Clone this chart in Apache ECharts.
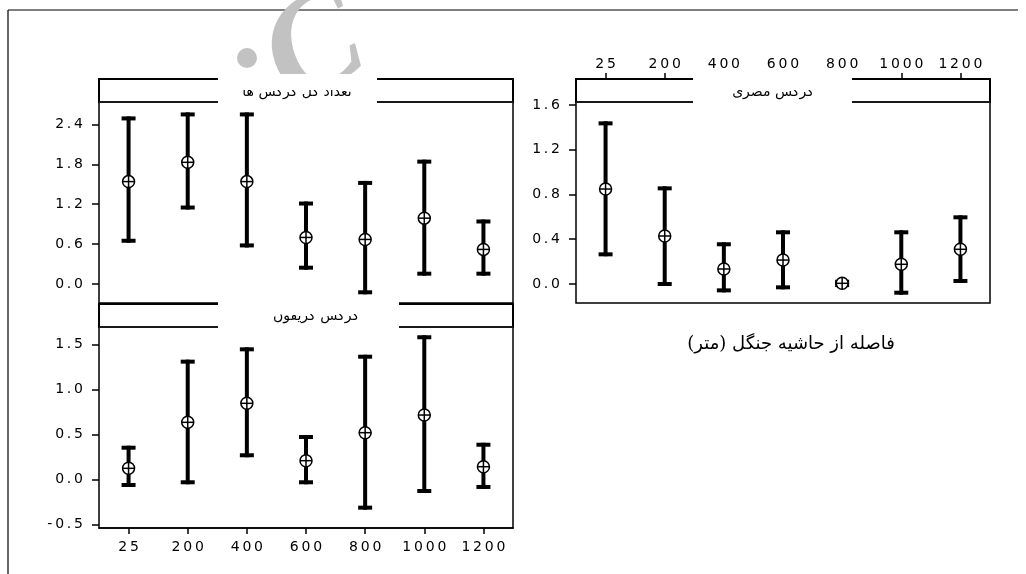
<!DOCTYPE html>
<html><head><meta charset="utf-8">
<script src="https://cdn.jsdelivr.net/npm/echarts@6/dist/echarts.min.js"></script>
<style>html,body{margin:0;padding:0;background:#fff}#c{width:1026px;height:574px}</style>
</head><body><div id="c"></div>
<script>
// ---- data ----
const categories = ['25','200','400','600','800','1000','1200'];
// panel 1 (top left)
const p1Mean = [1.54, 1.83, 1.54, 0.70, 0.67, 0.99, 0.52];
const p1Low  = [0.65, 1.15, 0.58, 0.245, -0.125, 0.155, 0.155];
const p1High = [2.49, 2.55, 2.55, 1.21, 1.52, 1.84, 0.94];
// panel 2 (top right)
const p2Mean = [0.849, 0.429, 0.134, 0.214, 0.006, 0.176, 0.31];
const p2Low  = [0.265, 0.0, -0.057, -0.03, -0.01, -0.078, 0.027];
const p2High = [1.436, 0.855, 0.355, 0.462, 0.02, 0.462, 0.596];
// panel 3 (bottom left)
const p3Mean = [0.122, 0.633, 0.844, 0.207, 0.518, 0.714, 0.14];
const p3Low  = [-0.063, -0.033, 0.267, -0.033, -0.315, -0.13, -0.085];
const p3High = [0.351, 1.307, 1.444, 0.47, 1.362, 1.578, 0.384];
// tick labels
const p1Ticks = [0, 0.6, 1.2, 1.8, 2.4];
const p2Ticks = [0, 0.4, 0.8, 1.2, 1.6];
const p3Ticks = [-0.5, 0, 0.5, 1.0, 1.5];
const panelTitles = ['تعداد کل کرکس ها', 'کرکس مصری', 'کرکس گریفون'];
const xTitle = 'فاصله از حاشیه جنگل (متر)';

// ---- layout ----
const W = 414, H = 201, STRIP = 23;
const grids = [
  {left: 99, top: 102},
  {left: 576, top: 102},
  {left: 99, top: 327}
];
const FONT = 'DejaVu Sans';
function spaced(s){ return String(s).split('').join('\u2009'); }
function fmtY(v){ return spaced(Number(v).toFixed(1)); }

function build(mean, low, high){
  return categories.map((c,i)=>[i, low[i], high[i], mean[i]]);
}
function renderItem(params, api){
  const x = api.value(0);
  const pL = api.coord([x, api.value(1)]);
  const pH = api.coord([x, api.value(2)]);
  const pM = api.coord([x, api.value(3)]);
  const cap = 7, r = 6;
  const st = {stroke:'#000', lineWidth:4, lineCap:'butt'};
  return {type:'group', children:[
    {type:'line', shape:{x1:pL[0], y1:pL[1]+2, x2:pH[0], y2:pH[1]-2}, style:st},
    {type:'line', shape:{x1:pL[0]-cap, y1:pL[1], x2:pL[0]+cap, y2:pL[1]}, style:st},
    {type:'line', shape:{x1:pH[0]-cap, y1:pH[1], x2:pH[0]+cap, y2:pH[1]}, style:st},
    {type:'circle', shape:{cx:pM[0], cy:pM[1], r:r}, style:{fill:'#fff', stroke:'#000', lineWidth:1.5}},
    {type:'line', shape:{x1:pM[0]-r, y1:pM[1], x2:pM[0]+r, y2:pM[1]}, style:{stroke:'#000', lineWidth:1.5}},
    {type:'line', shape:{x1:pM[0], y1:pM[1]-r, x2:pM[0], y2:pM[1]+r}, style:{stroke:'#000', lineWidth:1.5}}
  ]};
}

const yRanges = [[-0.286, 2.737], [-0.17, 1.627], [-0.541, 1.692]];
const yTicks = [p1Ticks, p2Ticks, p3Ticks];
const series = [[p1Mean,p1Low,p1High],[p2Mean,p2Low,p2High],[p3Mean,p3Low,p3High]];

const option = {
  animation: false,
  backgroundColor: '#fff',
  title: {
    text: xTitle, left: 786, top: 330, textAlign: 'center',
    textStyle: {fontFamily: 'DejaVu Serif, DejaVu Sans, serif', fontSize: 18, fontWeight: 'normal', color: '#000'}
  },
  grid: grids.map(g => ({left: g.left, top: g.top, width: W, height: H, show: true,
    borderColor: '#000', borderWidth: 1.5, backgroundColor: 'transparent'})),
  xAxis: grids.map((g, i) => ({
    type: 'category', data: categories, gridIndex: i,
    position: i === 1 ? 'top' : 'bottom',
    offset: i === 1 ? STRIP : 0,
    axisLine: {show: i !== 0, onZero: false, lineStyle: {color: '#000', width: 1.5}},
    axisTick: {show: i !== 0, alignWithLabel: true, length: 6, lineStyle: {color: '#000', width: 1.5}},
    axisLabel: {show: i !== 0, margin: i === 1 ? 8 : 12, color: '#000', fontFamily: FONT, fontSize: 14,
      formatter: v => spaced(v)},
    splitLine: {show: false}
  })),
  yAxis: grids.map((g, i) => ({
    type: 'value', gridIndex: i, min: yRanges[i][0], max: yRanges[i][1],
    axisLine: {show: false, onZero: false},
    axisTick: {show: true, length: 7, customValues: yTicks[i], lineStyle: {color: '#000', width: 1.5}},
    axisLabel: {show: true, margin: 16, customValues: yTicks[i], color: '#000', fontFamily: FONT, fontSize: 14,
      formatter: fmtY},
    splitLine: {show: false}
  })),
  series: series.map((s, i) => ({
    type: 'custom', xAxisIndex: i, yAxisIndex: i, renderItem: renderItem,
    encode: {x: 0, y: [1, 2, 3]}, data: build(s[0], s[1], s[2]), z: 3
  })),
  graphic: []
};

// outer frame
option.graphic.push({type:'line', shape:{x1:8, y1:10, x2:1018, y2:10}, style:{stroke:'#000', lineWidth:1.2}, z:1});
option.graphic.push({type:'line', shape:{x1:8, y1:10, x2:8, y2:574}, style:{stroke:'#000', lineWidth:1.2}, z:1});

// watermark (grey, partly hidden)
option.graphic.push({type:'text', x:316, y:52, rotation: 0.45, z:40,
  style:{text:'C', fontSize:140, fontStyle:'italic', fontWeight:'bold', fontFamily:'Liberation Serif, serif',
    fill:'#c2c2c2', align:'center', verticalAlign:'middle'}});
option.graphic.push({type:'circle', shape:{cx:247, cy:58, r:10}, style:{fill:'#c2c2c2'}, z:40});

// strips
grids.forEach(g => {
  option.graphic.push({type:'rect', shape:{x:g.left, y:g.top-STRIP, width:W, height:STRIP},
    style:{fill:'#fff', stroke:'#000', lineWidth:2}, z:5});
  option.graphic.push({type:'line', shape:{x1:g.left, y1:g.top, x2:g.left+W, y2:g.top},
    style:{stroke:'#333', lineWidth:1}, z:6});
});

// white patches that hide the strip titles in the reference
const patches = [
  {x:218, y:74, w:159, h:33, tx:297, cover:90},
  {x:693, y:70, w:159, h:36, tx:773, cover:90},
  {x:218, y:298, w:181, h:33, tx:316, cover:314}
];
patches.forEach((p, i) => {
  option.graphic.push({type:'rect', shape:{x:p.x, y:p.y, width:p.w, height:p.h}, style:{fill:'#fff'}, z:50});
  option.graphic.push({type:'text', x:p.tx, y:p.cover+2, z:51,
    style:{text:panelTitles[i], fontSize:14, fontFamily:'DejaVu Sans', fill:'#000', align:'center', verticalAlign:'middle'}});
  option.graphic.push({type:'rect', shape:{x:p.x, y:p.y, width:p.w, height:p.cover-p.y}, style:{fill:'#fff'}, z:52});
});

const chart = echarts.init(document.getElementById('c'), null, {renderer:'canvas'});
chart.setOption(option);
</script>
</body></html>
